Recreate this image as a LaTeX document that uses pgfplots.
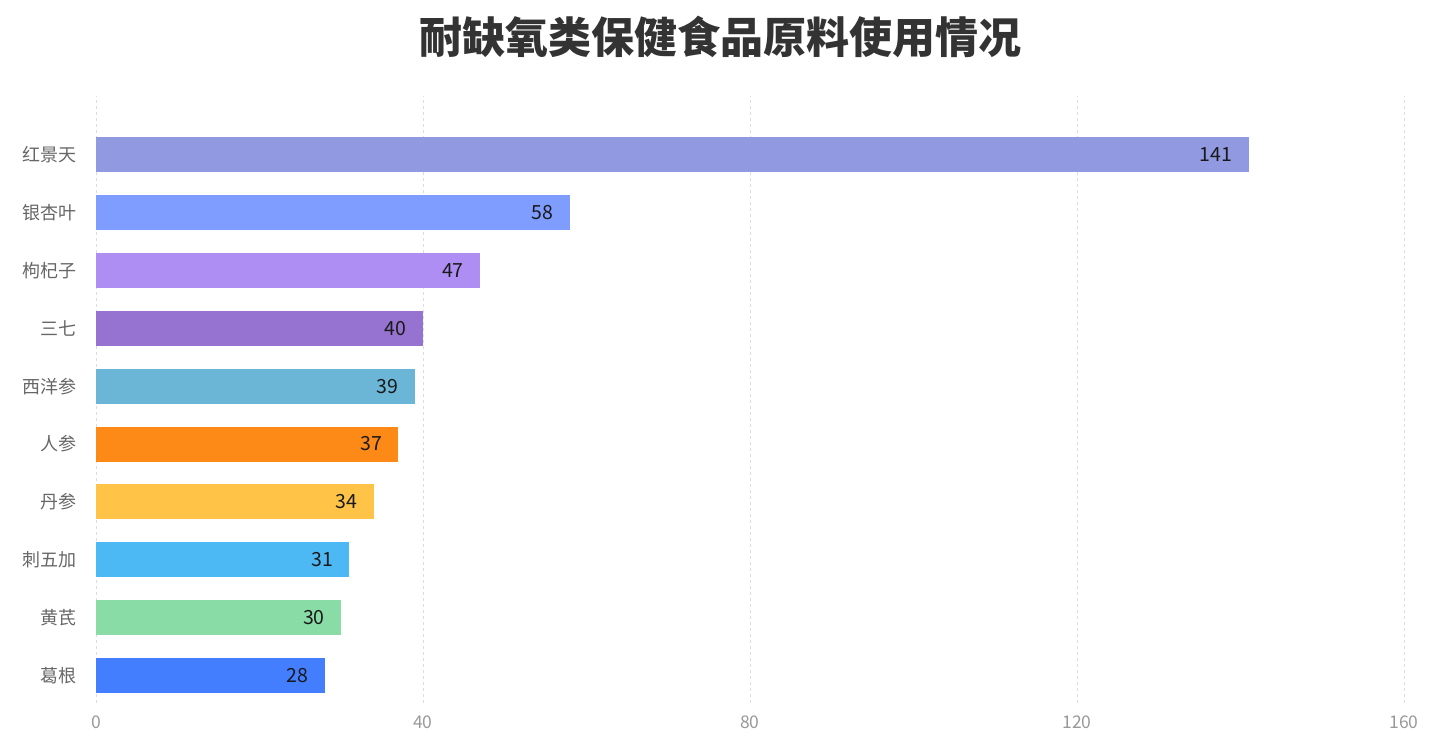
\documentclass[border=0pt]{standalone}
\usepackage{pgfplots}
\pgfplotsset{compat=1.18}
\usepackage{fontspec}
\setmainfont{Noto Sans CJK SC}
\definecolor{cA}{HTML}{9199E1}
\definecolor{cB}{HTML}{7F9CFF}
\definecolor{cC}{HTML}{AE8EF2}
\definecolor{cD}{HTML}{9673D0}
\definecolor{cE}{HTML}{6BB6D6}
\definecolor{cF}{HTML}{FD8A17}
\definecolor{cG}{HTML}{FFC347}
\definecolor{cH}{HTML}{4DB9F4}
\definecolor{cI}{HTML}{8ADCA7}
\definecolor{cJ}{HTML}{437EFF}
\definecolor{titlec}{HTML}{333333}
\definecolor{labc}{HTML}{666666}
\definecolor{tickc}{HTML}{999999}
\definecolor{gridc}{HTML}{DDDDDD}
\begin{document}
\begin{tikzpicture}
\path[use as bounding box] (0pt,0pt) rectangle (1440pt,755pt);
\node[font=\fontsize{43}{48}\selectfont\bfseries, text=titlec] at (720pt,718pt) {耐缺氧类保健食品原料使用情况};
\begin{axis}[
  at={(96pt,52pt)}, anchor=south west,
  scale only axis, width=1308pt, height=607pt,
  xbar, bar width=35pt,
  xmin=0, xmax=160, ymin=-0.48, ymax=10.02,
  xtick={0,40,80,120,160},
  ytick={0,...,9},
  yticklabels={葛根,黄芪,刺五加,丹参,人参,西洋参,三七,枸杞子,银杏叶,红景天},
  /pgf/number format/assume math mode=true,
  axis line style={draw=none},
  major tick style={draw=none},
  xmajorgrids, ymajorgrids=false,
  grid style={gridc, dashed, line width=0.8pt},
  xticklabel style={text=tickc, yshift=-9pt, font=\fontsize{17.5}{20}\selectfont},
  yticklabel style={text=labc, xshift=-12pt, font=\fontsize{18}{21}\selectfont},
  nodes near coords,
  every node near coord/.append style={anchor=east, xshift=-13pt, font=\fontsize{19.5}{22}\selectfont, text=black!90},
  bar shift=0pt,
]
\addplot[draw=none, fill=cA] coordinates {(141,9)};
\addplot[draw=none, fill=cB] coordinates {(58,8)};
\addplot[draw=none, fill=cC] coordinates {(47,7)};
\addplot[draw=none, fill=cD] coordinates {(40,6)};
\addplot[draw=none, fill=cE] coordinates {(39,5)};
\addplot[draw=none, fill=cF] coordinates {(37,4)};
\addplot[draw=none, fill=cG] coordinates {(34,3)};
\addplot[draw=none, fill=cH] coordinates {(31,2)};
\addplot[draw=none, fill=cI] coordinates {(30,1)};
\addplot[draw=none, fill=cJ] coordinates {(28,0)};
\end{axis}
\end{tikzpicture}
\end{document}
